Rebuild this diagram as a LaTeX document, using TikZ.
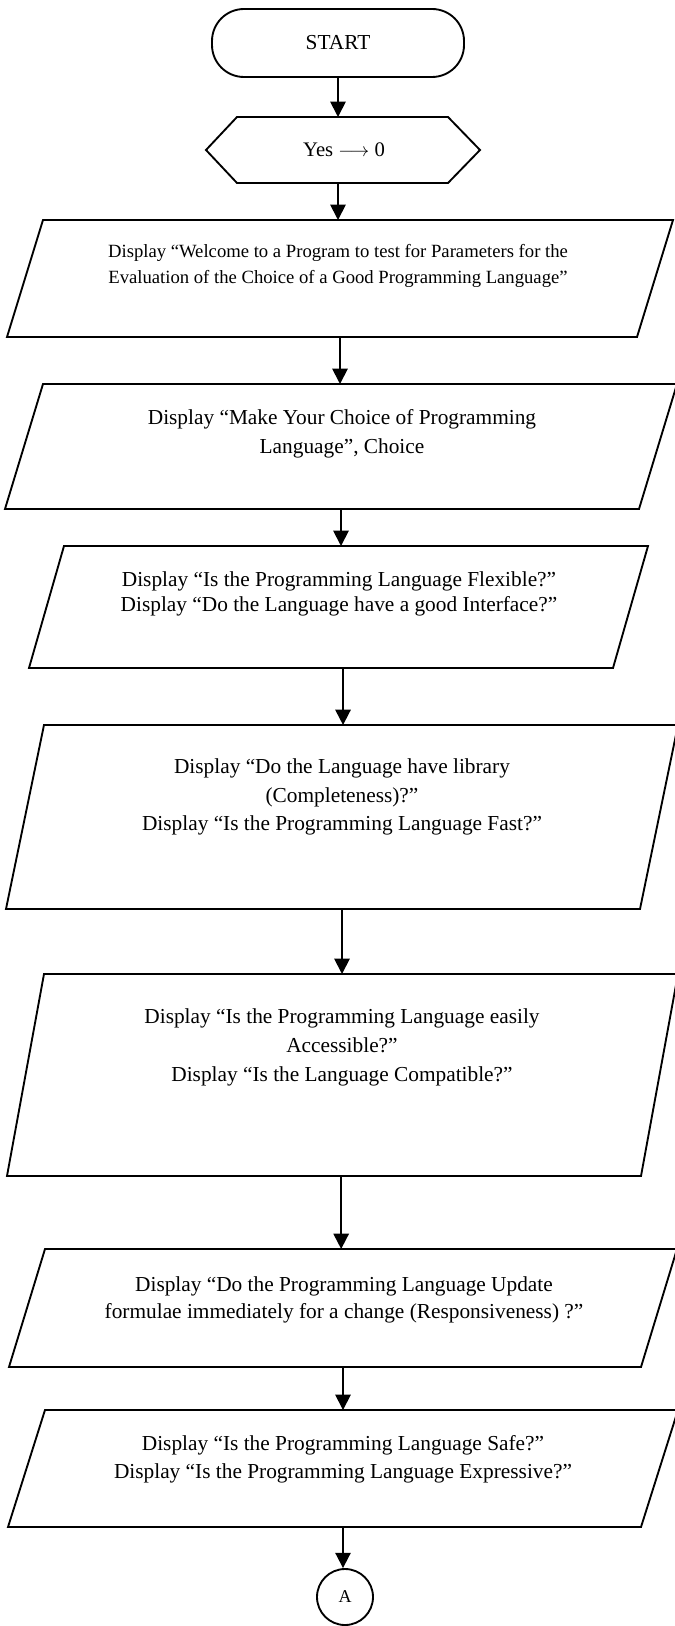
\documentclass[tikz,border=0pt]{standalone}
\usepackage{fontspec}
\setmainfont{Liberation Serif}
\usetikzlibrary{arrows.meta,calc,fit}

% outline of an input/output box: the slanted sides lean to the right by #2
\newcommand\ioshape[2]{%
  \draw[edge] (#1.south west) -- ($(#1.north west)+(#2,0)$) -- (#1.north east)
    -- ($(#1.south east)+(-#2,0)$) -- cycle;}

\tikzset{
  edge/.style={line width=1.4pt, line join=miter},
  arr/.style={line width=1.4pt, -{Triangle[length=11.5pt,width=11.5pt]}},
  frame/.style={rectangle, inner sep=0pt, outer sep=0pt},
  txt/.style={align=center, inner sep=0pt},
}

\begin{document}
\begin{tikzpicture}[x=0.75pt,y=-0.75pt]
\useasboundingbox (0,0) rectangle (674,1626);
\fill[white] (0,0) rectangle (674,1626);

% terminal
\node[draw, edge, rounded corners=24pt, minimum width=189pt, minimum height=51pt,
      inner sep=0pt, font=\fontsize{16}{18}\selectfont] (start) at (338,43) {START};

% preparation hexagon
\node[frame, fit={(206,117) (480,183)}] (hex) {};
\draw[edge] (hex.west) -- ($(hex.north west)+(31,0)$) -- ($(hex.north east)+(-32,0)$)
  -- (hex.east) -- ($(hex.south east)+(-32,0)$) -- ($(hex.south west)+(31,0)$) -- cycle;
\node[txt, font=\fontsize{15.5}{18}\selectfont] (hext) at (344,150) {Yes \ensuremath{\longrightarrow} 0};

% input/output boxes
\node[frame, fit={(7,220) (673,337)}] (p1) {};
\node[frame, fit={(5,384) (677,509)}] (p2) {};
\node[frame, fit={(29,546) (648,668)}] (p3) {};
\node[frame, fit={(6,725) (678,909)}] (p4) {};
\node[frame, fit={(7,974) (678,1176)}] (p5) {};
\node[frame, fit={(9,1249) (677,1367)}] (p6) {};
\node[frame, fit={(8,1410) (678,1527)}] (p7) {};
\ioshape{p1}{36}
\ioshape{p2}{38}
\ioshape{p3}{35}
\ioshape{p4}{38}
\ioshape{p5}{37}
\ioshape{p6}{36}
\ioshape{p7}{37}

\node[txt, font=\fontsize{14}{19.5}\selectfont] (t1) at (338,266)
  {Display “Welcome to a Program to test for Parameters for the\\
   Evaluation of the Choice of a Good Programming Language”};
\node[txt, font=\fontsize{16}{21.75}\selectfont] (t2) at (342,434)
  {Display “Make Your Choice of Programming\\Language”, Choice};
\node[txt, font=\fontsize{16}{19}\selectfont] (t3) at (339,594)
  {Display “Is the Programming Language Flexible?”\\
   Display “Do the Language have a good Interface?”};
\node[txt, font=\fontsize{16}{21.4}\selectfont] (t4) at (342,797)
  {Display “Do the Language have library\\(Completeness)?”\\
   Display “Is the Programming Language Fast?”};
\node[txt, font=\fontsize{16}{21.75}\selectfont] (t5) at (342,1047)
  {Display “Is the Programming Language easily\\Accessible?”\\
   Display “Is the Language Compatible?”};
\node[txt, font=\fontsize{16}{20.6}\selectfont] (t6) at (344,1300)
  {Display “Do the Programming Language Update\\
   formulae immediately for a change (Responsiveness) ?”};
\node[txt, font=\fontsize{16}{21}\selectfont] (t7) at (343,1459)
  {Display “Is the Programming Language Safe?”\\
   Display “Is the Programming Language Expressive?”};

% off-page connector
\node[draw, edge, circle, minimum size=42pt, inner sep=0pt,
      font=\fontsize{13.5}{15}\selectfont] (conn) at (345,1597) {A};

% flow
\draw[arr] (start.south) -- (start.south |- hex.north);
\draw[arr] (start.south |- hex.south) -- (start.south |- p1.north);
\draw[arr] (p1.south) -- (p1.south |- p2.north);
\draw[arr] (p2.south) -- (p2.south |- p3.north);
\draw[arr] ([xshift=3.4pt]p3.south) -- ([xshift=3.4pt]p3.south |- p4.north);
\draw[arr] (p4.south) -- (p4.south |- p5.north);
\draw[arr] ([xshift=-1pt]p5.south) -- ([xshift=-1pt]p5.south |- p6.north);
\draw[arr] (p6.south) -- (p6.south |- p7.north);
\draw[arr] (p7.south) -- (p7.south |- conn.north);
\end{tikzpicture}
\end{document}
